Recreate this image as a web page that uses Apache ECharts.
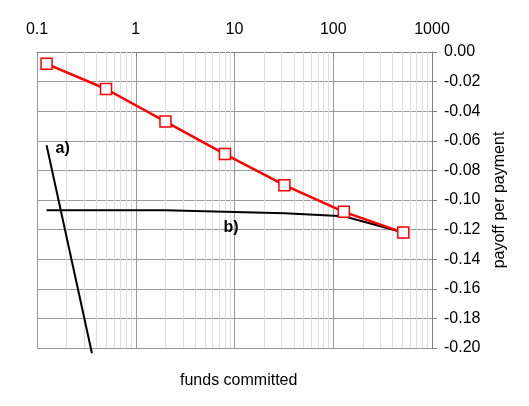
<!DOCTYPE html>
<html><head><meta charset="utf-8">
<script src="https://cdn.jsdelivr.net/npm/echarts@6/dist/echarts.min.js"></script>
<style>html,body{margin:0;padding:0;background:#fff}#c{width:529px;height:406px}</style>
</head><body><div id="c"></div>
<script>
var funds = [0.125, 0.5, 2, 8, 32, 128, 512];
var payoffRed = [-0.008, -0.025, -0.047, -0.069, -0.090, -0.108, -0.122];
var payoffB = [-0.107, -0.107, -0.107, -0.108, -0.109, -0.111, -0.122];
var fundsA = [0.125, 0.36];
var payoffA = [-0.063, -0.2035];
var minorGrid = [0.2,0.3,0.4,0.5,0.6,0.7,0.8,0.9,2,3,4,5,6,7,8,9,20,30,40,50,60,70,80,90,200,300,400,500,600,700,800,900];
var font = '"Liberation Sans", Arial, sans-serif';

function pairs(xs, ys){ return xs.map(function(x,i){ return [x, ys[i]]; }); }

var chart = echarts.init(document.getElementById('c'), null, {renderer:'canvas'});
chart.setOption({
  animation: false,
  backgroundColor: '#fff',
  title: {
    text: 'funds committed', left: 175, top: 368,
    textStyle: {fontFamily: font, fontSize: 16, fontWeight: 'normal', color: '#000'}
  },
  grid: {left: 37, right: 97, top: 52, bottom: 58},
  xAxis: {
    type: 'log', logBase: 10, min: 0.1, max: 1000, position: 'top',
    axisLine: {show: true, lineStyle: {color: '#808080', width: 1}},
    axisTick: {show: true, inside: true, length: 5, lineStyle: {color: '#808080'}},
    axisLabel: {fontFamily: font, fontSize: 16, color: '#000', margin: 14,
      formatter: function(v){ return String(+v.toPrecision(6)); }},
    splitLine: {show: true, lineStyle: {color: '#999', width: 1}},
    minorTick: {show: false}, minorSplitLine: {show: false}
  },
  yAxis: {
    type: 'value', position: 'right', min: -0.2, max: 0, interval: 0.02,
    name: 'payoff per payment', nameLocation: 'middle', nameRotate: 90, nameGap: 60,
    nameTextStyle: {fontFamily: font, fontSize: 16, color: '#000'},
    axisLine: {show: true, lineStyle: {color: '#808080', width: 1}},
    axisTick: {show: true, inside: false, length: 5, lineStyle: {color: '#808080'}},
    axisLabel: {fontFamily: font, fontSize: 16, color: '#000', margin: 12,
      formatter: function(v){ return v.toFixed(2); }},
    splitLine: {show: true, lineStyle: {color: '#999', width: 1}}
  },
  series: [
    {
      type: 'line', data: [], silent: true, z: 1,
      markLine: {
        silent: true, z: 1, symbol: ['none','none'], label: {show: false},
        lineStyle: {color: '#dedede', width: 1, type: 'solid'},
        data: minorGrid.map(function(v){ return {xAxis: v}; })
      }
    },
    {
      type: 'line', data: pairs(fundsA, payoffA), clip: false, showSymbol: false,
      lineStyle: {color: '#000', width: 2}, z: 3
    },
    {
      type: 'line', data: pairs(funds, payoffB), showSymbol: false,
      lineStyle: {color: '#000', width: 2}, z: 3
    },
    {
      type: 'line', data: pairs(funds, payoffRed), symbol: 'rect', symbolSize: 11,
      itemStyle: {color: '#fff', borderColor: '#ff0000', borderWidth: 1.5},
      lineStyle: {color: '#ff0000', width: 2.5}, z: 4
    },
    {
      type: 'scatter', silent: true, symbolSize: 0, z: 5,
      itemStyle: {opacity: 1, color: '#000'},
      data: [
        {value: [fundsA[0], payoffA[0]], label: {show: true, formatter: 'a)', position: 'right', offset: [4, 3], color: '#000'}},
        {value: [funds[3], payoffB[3]], label: {show: true, formatter: 'b)', position: 'bottom', offset: [6, 3], color: '#000'}}
      ],
      label: {fontFamily: font, fontSize: 16, fontWeight: 'bold', color: '#000', opacity: 1}
    }
  ]
});
</script></body></html>
